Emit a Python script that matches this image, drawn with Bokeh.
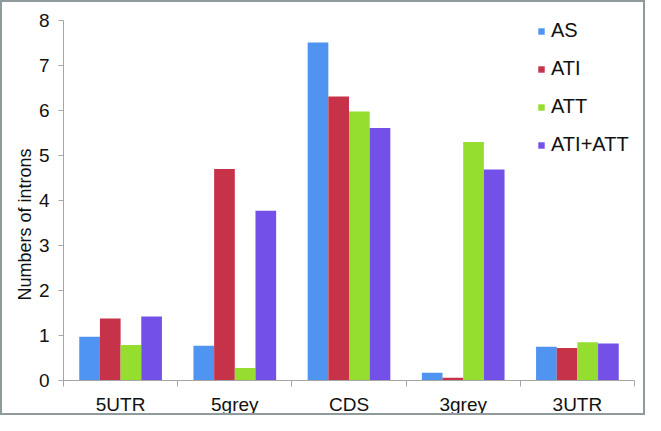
from bokeh.plotting import figure
from bokeh.models import ColumnDataSource, Range1d, FixedTicker, Legend, LegendItem, Title
from bokeh.embed import file_html
from bokeh.resources import INLINE

categories = ["5UTR", "5grey", "CDS", "3grey", "3UTR"]
series = ["AS", "ATI", "ATT", "ATI+ATT"]
AS = [0.97, 0.77, 7.51, 0.17, 0.75]
ATI = [1.38, 4.70, 6.31, 0.06, 0.72]
ATT = [0.79, 0.28, 5.98, 5.30, 0.85]
ATI_ATT = [1.42, 3.77, 5.61, 4.69, 0.82]
colors = ["#4E94F0", "#C63248", "#95DD2F", "#7350E8"]
y_ticks = [0, 1, 2, 3, 4, 5, 6, 7, 8]

FONT = "Liberation Sans"

p = figure(width=645, height=415, output_backend="svg", toolbar_location=None,
           x_range=Range1d(0, len(categories)), y_range=Range1d(0, 8),
           min_border_left=61, min_border_right=13, min_border_top=18, min_border_bottom=27)
p.styles = {"border": "2px solid #8E9A9C", "box-sizing": "border-box"}
p.outline_line_color = None
p.xgrid.grid_line_color = None
p.ygrid.grid_line_color = None
p.background_fill_color = "white"
p.border_fill_color = "white"

bar_w = 0.181
centers = [i + 0.5 for i in range(len(categories))]
items = []
for k, (name, vals) in enumerate(zip(series, [AS, ATI, ATT, ATI_ATT])):
    xs = [c + (k - 1.5) * bar_w for c in centers]
    src = ColumnDataSource(dict(x=xs, top=vals))
    r = p.vbar(x="x", top="top", bottom=0, width=bar_w, source=src,
               fill_color=colors[k], line_color=None)
    items.append(LegendItem(label=name, renderers=[r]))

legend = Legend(items=items, location=(474, 224), orientation="vertical",
                glyph_width=8, glyph_height=8, label_standoff=6, spacing=15,
                label_height=22, label_text_font_size="20px", label_text_font=FONT,
                label_text_color="#111111",
                padding=0, margin=0, border_line_alpha=0, background_fill_alpha=0)
p.add_layout(legend, "center")

# x axis: ticks at category boundaries, labels at centers
p.xaxis.ticker = FixedTicker(ticks=centers, minor_ticks=list(range(len(categories) + 1)))
p.xaxis.major_label_overrides = {c: cat for c, cat in zip(centers, categories)}
p.xaxis.major_tick_out = 0
p.xaxis.major_tick_in = 0
p.xaxis.minor_tick_out = 6
p.xaxis.minor_tick_in = 0
p.xaxis.minor_tick_line_color = "#A6A6A6"
p.xaxis.axis_line_color = "#A6A6A6"
p.xaxis.major_label_text_font = FONT
p.xaxis.major_label_text_font_size = "19px"
p.xaxis.major_label_text_color = "#111111"
p.xaxis.major_label_standoff = 7

p.yaxis.ticker = FixedTicker(ticks=y_ticks, minor_ticks=[])
p.yaxis.major_tick_out = 5
p.yaxis.major_tick_in = 0
p.yaxis.major_tick_line_color = "#A6A6A6"
p.yaxis.axis_line_color = "#A6A6A6"
p.yaxis.major_label_text_font = FONT
p.yaxis.major_label_text_font_size = "19px"
p.yaxis.major_label_text_color = "#111111"
p.yaxis.major_label_standoff = 9

ytitle = Title(text="Numbers of introns", align="left", offset=80,
               text_font=FONT, text_font_size="18px", text_font_style="normal",
               text_color="#111111", standoff=2)
p.add_layout(ytitle, "left")

open("out.html", "w").write(file_html(p, INLINE))
